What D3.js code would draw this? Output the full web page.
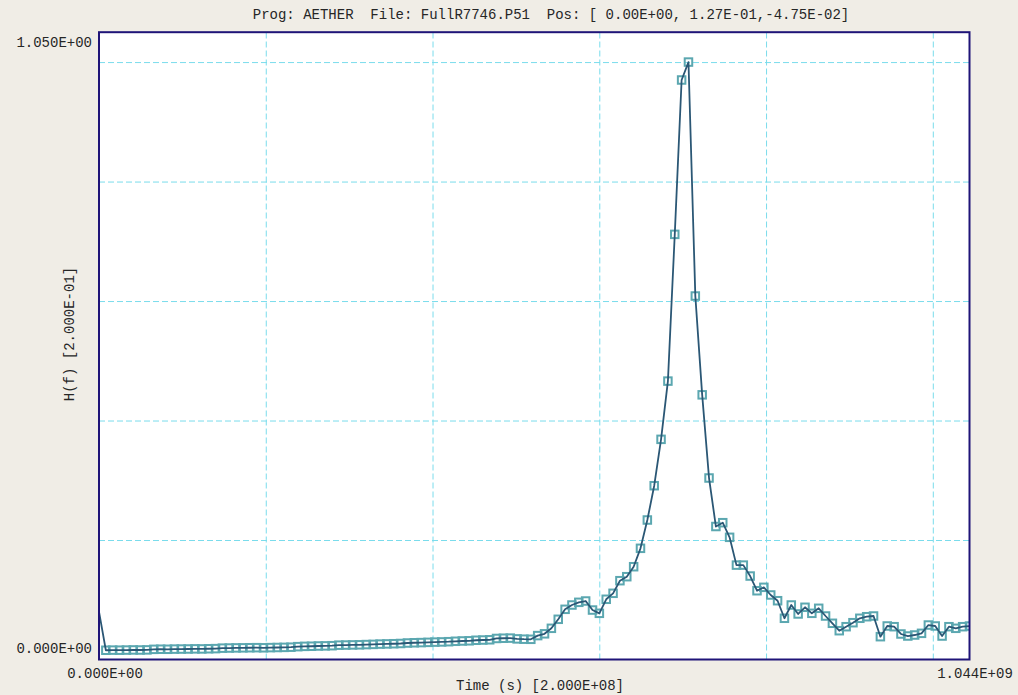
<!DOCTYPE html>
<html>
<head>
<meta charset="utf-8">
<script src="https://cdn.jsdelivr.net/npm/d3@7"></script>
<style>
  html, body { margin: 0; padding: 0; background: #f0ede6; }
  svg { display: block; }
  text { font-family: "Liberation Mono", "DejaVu Sans Mono", monospace; font-size: 14px; fill: #262626; white-space: pre; }
</style>
</head>
<body>
<svg id="chart" width="1018" height="695"></svg>
<script>
// Header and axis captions
const headerText = "Prog: AETHER  File: FullR7746.P51  Pos: [ 0.00E+00, 1.27E-01,-4.75E-02]";
const xTitle = "Time (s) [2.000E+08]";
const yTitle = "H(f) [2.000E-01]";

// Axis extent and the end labels printed at each corner
const xDomain = [0, 1.044e9];
const yDomain = [0, 1.05];
const xTickLabels = ["0.000E+00", "1.044E+09"];
const yTickLabels = ["0.000E+00", "1.050E+00"];

// Grid divisions
const xGrid = [2e8, 4e8, 6e8, 8e8, 1e9];
const yGrid = [0.2, 0.4, 0.6, 0.8, 1.0];

// Spectrum samples H(f), evenly spaced over the frequency axis
const hf = [
  0.0800,
  0.0155, 0.0157, 0.0156, 0.0158, 0.0160, 0.0159, 0.0161,
  0.0170, 0.0172, 0.0171, 0.0174, 0.0175, 0.0176, 0.0178, 0.0177, 0.0180, 0.0182,
  0.0190, 0.0192, 0.0194, 0.0195, 0.0197, 0.0198, 0.0196, 0.0199, 0.0201, 0.0203, 0.0206,
  0.0215, 0.0220, 0.0222, 0.0226, 0.0228, 0.0231,
  0.0240, 0.0242, 0.0244, 0.0246, 0.0250, 0.0253,
  0.0258, 0.0261, 0.0264, 0.0268,
  0.0276, 0.0280, 0.0283,
  0.0287, 0.0291, 0.0294, 0.0298,
  0.0305, 0.0310, 0.0313,
  0.0322, 0.0326, 0.0330,
  0.0352, 0.0356, 0.0358,
  0.0345, 0.0340, 0.0338,
  0.0400, 0.0430,
  0.0522, 0.0673, 0.0840, 0.0912, 0.0957, 0.0979, 0.0828, 0.0773, 0.1008, 0.1108,
  0.1319, 0.1386, 0.1553, 0.1861, 0.2335, 0.2909, 0.3685, 0.4660, 0.7116, 0.9700,
  1.0000, 0.6084, 0.4430, 0.3038, 0.2226, 0.2290, 0.2045, 0.1580, 0.1580, 0.1397,
  0.1151, 0.1208, 0.1080, 0.0984, 0.0690, 0.0912, 0.0762, 0.0874, 0.0773, 0.0857,
  0.0728, 0.0606, 0.0482, 0.0549, 0.0616, 0.0690, 0.0716, 0.0728, 0.0382, 0.0561,
  0.0549, 0.0427, 0.0393, 0.0410, 0.0438, 0.0577, 0.0561, 0.0393, 0.0549, 0.0522,
  0.0549, 0.0560
];
const freqStep = xDomain[1] / (hf.length - 1);
const points = hf.map((v, i) => ({ f: i * freqStep, v }));

const svg = d3.select("#chart");
const plot = { left: 99, right: 969.5, top: 32.2, bottom: 659.5 };

const x = d3.scaleLinear().domain(xDomain).range([plot.left, plot.right]);
const y = d3.scaleLinear().domain(yDomain).range([plot.bottom, plot.top]);

svg.append("defs").append("clipPath").attr("id", "plotClip")
  .append("rect")
  .attr("x", plot.left).attr("y", plot.top)
  .attr("width", plot.right - plot.left).attr("height", plot.bottom - plot.top);

// White plotting field
svg.append("rect")
  .attr("x", plot.left).attr("y", plot.top)
  .attr("width", plot.right - plot.left).attr("height", plot.bottom - plot.top)
  .attr("fill", "#ffffff");

// Dashed grid drawn with axis generators
const gridColor = "#7adcec";
svg.append("g")
  .attr("transform", `translate(0,${plot.bottom})`)
  .call(d3.axisBottom(x).tickValues(xGrid).tickSize(-(plot.bottom - plot.top)).tickFormat(""))
  .call(g => g.select(".domain").remove())
  .call(g => g.selectAll("line").attr("stroke", gridColor).attr("stroke-width", 1).attr("stroke-dasharray", "6,3"));

svg.append("g")
  .attr("transform", `translate(${plot.left},0)`)
  .call(d3.axisLeft(y).tickValues(yGrid).tickSize(-(plot.right - plot.left)).tickFormat(""))
  .call(g => g.select(".domain").remove())
  .call(g => g.selectAll("line").attr("stroke", gridColor).attr("stroke-width", 1).attr("stroke-dasharray", "6,3"));

const data = svg.append("g").attr("clip-path", "url(#plotClip)");

// Square markers on every sample after the DC term
const ms = 7.5;
data.selectAll("rect.mk")
  .data(points.slice(1))
  .join("rect")
  .attr("class", "mk")
  .attr("x", d => x(d.f) - ms / 2)
  .attr("y", d => y(d.v) - ms / 2)
  .attr("width", ms).attr("height", ms)
  .attr("fill", "none")
  .attr("stroke", "#5ba7b0")
  .attr("stroke-width", 2);

// Spectrum trace
data.append("path")
  .datum(points)
  .attr("fill", "none")
  .attr("stroke", "#2b5775")
  .attr("stroke-width", 1.8)
  .attr("stroke-linejoin", "round")
  .attr("d", d3.line().x(d => x(d.f)).y(d => y(d.v)));

// Plot frame
svg.append("rect")
  .attr("x", plot.left).attr("y", plot.top)
  .attr("width", plot.right - plot.left).attr("height", plot.bottom - plot.top)
  .attr("fill", "none")
  .attr("stroke", "#1f1478")
  .attr("stroke-width", 2);

// Header
svg.append("text").attr("x", 551).attr("y", 19).attr("text-anchor", "middle").text(headerText);

// Corner labels
svg.append("text").attr("x", 92).attr("y", 47).attr("text-anchor", "end").text(yTickLabels[1]);
svg.append("text").attr("x", 92).attr("y", 653).attr("text-anchor", "end").text(yTickLabels[0]);
svg.append("text").attr("x", 105).attr("y", 678).attr("text-anchor", "middle").text(xTickLabels[0]);
svg.append("text").attr("x", 975).attr("y", 678).attr("text-anchor", "middle").text(xTickLabels[1]);

// Axis titles
svg.append("text").attr("x", 540).attr("y", 690).attr("text-anchor", "middle").text(xTitle);
svg.append("text")
  .attr("transform", "translate(74,334) rotate(-90)")
  .attr("text-anchor", "middle")
  .text(yTitle);
</script>
</body>
</html>
